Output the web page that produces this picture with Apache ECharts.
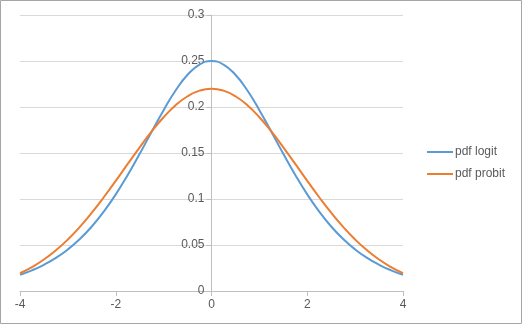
<!DOCTYPE html>
<html><head><meta charset="utf-8">
<script src="https://cdn.jsdelivr.net/npm/echarts@6/dist/echarts.min.js"></script>
<style>html,body{margin:0;padding:0;background:#fff}#c{width:524px;height:325px}</style>
</head><body><div id="c"></div>
<script>
const seriesNames = ['pdf logit', 'pdf probit'];
const xValues = [-4,-3.75,-3.5,-3.25,-3,-2.75,-2.5,-2.25,-2,-1.75,-1.5,-1.25,-1,-0.75,-0.5,-0.25,0,0.25,0.5,0.75,1,1.25,1.5,1.75,2,2.25,2.5,2.75,3,3.25,3.5,3.75,4];
const logitValues = [0.0177,0.0225,0.0285,0.0360,0.0452,0.0565,0.0701,0.0863,0.1050,0.1261,0.1491,0.1731,0.1966,0.2179,0.2350,0.2461,0.2500,0.2461,0.2350,0.2179,0.1966,0.1731,0.1491,0.1261,0.1050,0.0863,0.0701,0.0565,0.0452,0.0360,0.0285,0.0225,0.0177];
const probitValues = [0.0193,0.0260,0.0342,0.0442,0.0560,0.0697,0.0851,0.1019,0.1197,0.1381,0.1562,0.1734,0.1889,0.2019,0.2117,0.2178,0.2199,0.2178,0.2117,0.2019,0.1889,0.1734,0.1562,0.1381,0.1197,0.1019,0.0851,0.0697,0.0560,0.0442,0.0342,0.0260,0.0193];
const colors = ['#5b9bd5', '#ed7d31'];

const chart = echarts.init(document.getElementById('c'));
const txt = {color:'#595959', fontFamily:'"Liberation Sans", Arial, sans-serif', fontSize:12};
const gridLeft = 20, gridWidth = 383;
chart.setOption({
  animation:false,
  grid:{left:gridLeft, width:gridWidth, top:15, bottom:34, containLabel:false, outerBoundsMode:'none'},
  graphic:[{type:'rect', shape:{x:0.5,y:0.5,width:521,height:323}, style:{fill:'none', stroke:'#a6a6a6', lineWidth:1}, silent:true}],
  legend:{orient:'vertical', left:422, top:141, icon:'rect', itemWidth:26, itemHeight:2, itemGap:10,
    textStyle:Object.assign({}, txt, {padding:[0,0,0,-3]}), data:seriesNames},
  xAxis:{type:'value', min:-4, max:4, interval:2,
    axisLine:{show:true, onZero:false, lineStyle:{color:'#bfbfbf'}},
    axisTick:{show:true, length:5, lineStyle:{color:'#bfbfbf'}},
    axisLabel:Object.assign({}, txt, {margin:8}),
    splitLine:{show:false}},
  yAxis:{type:'value', min:0, max:0.3, interval:0.05, position:'left', offset:-gridWidth/2,
    axisLine:{show:true, onZero:false, lineStyle:{color:'#bfbfbf'}},
    axisTick:{show:true, inside:false, length:5, lineStyle:{color:'#bfbfbf'}},
    axisLabel:Object.assign({}, txt, {margin:7}),
    splitLine:{show:true, lineStyle:{color:'#d9d9d9'}}},
  series:[
    {name:seriesNames[0], type:'line', smooth:true, symbol:'none', color:colors[0], lineStyle:{width:2, color:colors[0]},
      data:xValues.map((x,i)=>[x, logitValues[i]])},
    {name:seriesNames[1], type:'line', smooth:true, symbol:'none', color:colors[1], lineStyle:{width:2, color:colors[1]},
      data:xValues.map((x,i)=>[x, probitValues[i]])}
  ]
});
</script></body></html>
